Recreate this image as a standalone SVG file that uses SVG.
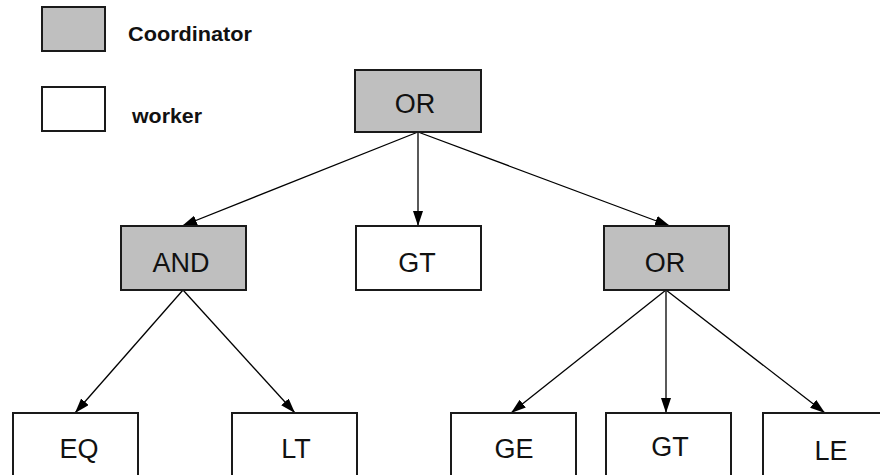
<svg xmlns="http://www.w3.org/2000/svg" width="880" height="475" viewBox="0 0 880 475">
  <style>
    .box { stroke: #1a1a1a; stroke-width: 2; }
    .coord { fill: #bfbfbf; }
    .work { fill: #ffffff; }
    .label { font-family: "Liberation Sans", Arial, sans-serif; font-size: 27px; fill: #111; text-anchor: middle; }
    .legend { font-family: "Liberation Sans", Arial, sans-serif; font-size: 20px; font-weight: bold; fill: #111; }
    .edge { stroke: #000; stroke-width: 1.3; fill: none; marker-end: url(#head); }
  </style>
  <defs>
    <marker id="head" markerUnits="userSpaceOnUse" markerWidth="16" markerHeight="11" refX="15" refY="5" orient="auto">
      <path d="M0,0 L15,5 L0,10 z" fill="#000"/>
    </marker>
  </defs>
  <rect width="880" height="475" fill="#ffffff"/>

  <!-- legend -->
  <g id="legend">
    <rect class="box coord" x="42" y="7" width="63" height="44"/>
    <text class="legend" x="128" y="41" textLength="124" lengthAdjust="spacingAndGlyphs">Coordinator</text>
    <rect class="box work" x="42" y="87" width="63" height="44"/>
    <text class="legend" x="132" y="123" textLength="70" lengthAdjust="spacingAndGlyphs">worker</text>
  </g>

  <!-- connectors -->
  <g id="edges">
    <line class="edge" x1="418" y1="132" x2="182" y2="226"/>
    <line class="edge" x1="418" y1="132" x2="418" y2="226"/>
    <line class="edge" x1="418" y1="132" x2="670" y2="226"/>
    <line class="edge" x1="183" y1="290" x2="75" y2="413"/>
    <line class="edge" x1="183" y1="290" x2="295" y2="413"/>
    <line class="edge" x1="666" y1="290" x2="511" y2="413"/>
    <line class="edge" x1="666" y1="290" x2="666" y2="413"/>
    <line class="edge" x1="666" y1="290" x2="825" y2="413"/>
  </g>

  <!-- nodes -->
  <g id="root-or">
    <rect class="box coord" x="355" y="70" width="126" height="62"/>
    <text class="label" x="415" y="113">OR</text>
  </g>
  <g id="and">
    <rect class="box coord" x="121" y="226" width="125" height="64"/>
    <text class="label" x="181" y="272">AND</text>
  </g>
  <g id="gt-mid">
    <rect class="box work" x="356" y="226" width="125" height="64"/>
    <text class="label" x="417" y="272">GT</text>
  </g>
  <g id="or-right">
    <rect class="box coord" x="604" y="226" width="125" height="64"/>
    <text class="label" x="665" y="272">OR</text>
  </g>
  <g id="eq">
    <rect class="box work" x="13" y="413" width="125" height="70"/>
    <text class="label" x="79" y="458">EQ</text>
  </g>
  <g id="lt">
    <rect class="box work" x="232" y="413" width="125" height="70"/>
    <text class="label" x="296" y="458">LT</text>
  </g>
  <g id="ge">
    <rect class="box work" x="451" y="413" width="125" height="70"/>
    <text class="label" x="514" y="458">GE</text>
  </g>
  <g id="gt-low">
    <rect class="box work" x="606" y="413" width="125" height="70"/>
    <text class="label" x="670" y="456">GT</text>
  </g>
  <g id="le">
    <rect class="box work" x="763" y="413" width="125" height="70"/>
    <text class="label" x="831" y="460">LE</text>
  </g>
</svg>
